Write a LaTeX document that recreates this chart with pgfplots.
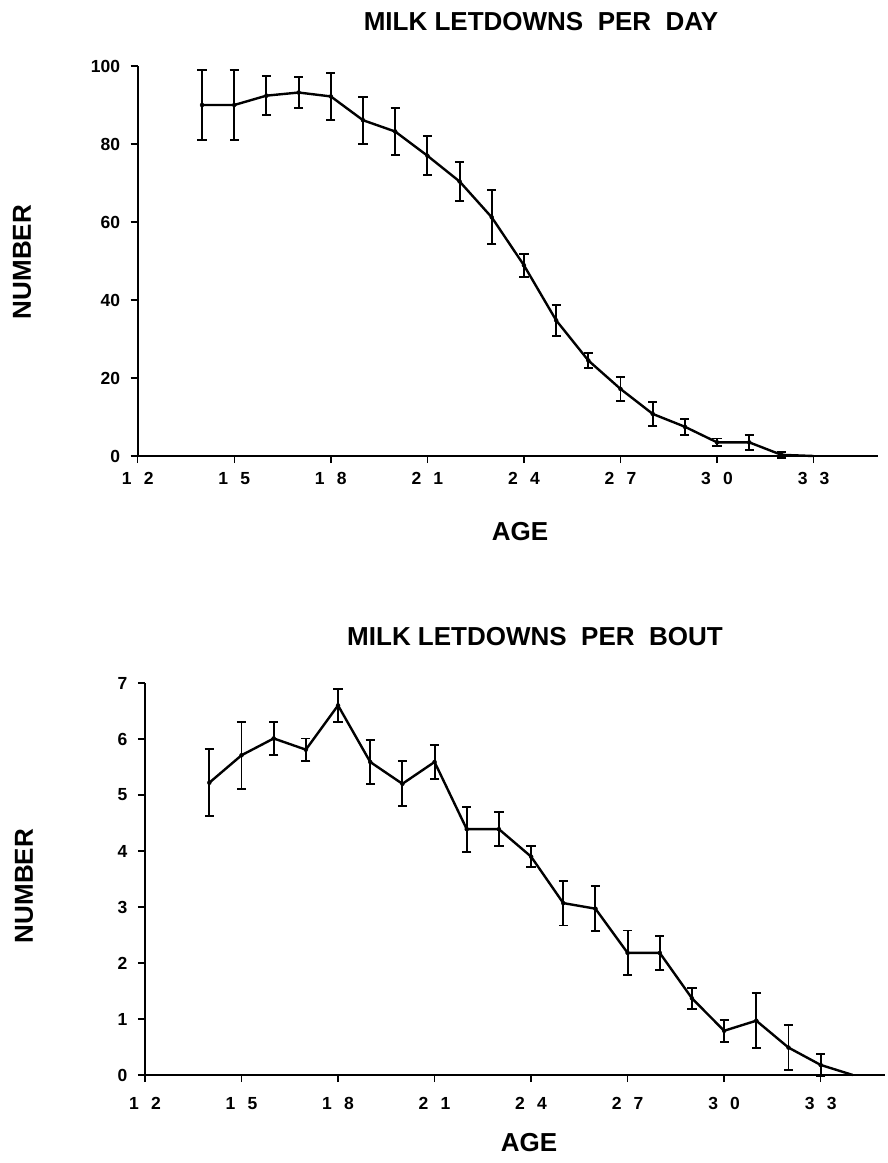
\documentclass[border=0pt]{standalone}
\usepackage{fontspec}
\setmainfont{Liberation Sans}
\usepackage{pgfplots}
\usepackage{pgfplotstable}
\pgfplotsset{compat=1.18}
\pgfplotstableread{
x y e
14 90.0 9.0
15 90.0 9.0
16 92.4 5.0
17 93.2 4.0
18 92.2 6.0
19 86.1 6.0
20 83.2 6.0
21 77.0 5.0
22 70.4 5.0
23 61.2 6.9
24 48.9 3.0
25 34.8 4.0
26 24.5 2.0
27 17.2 3.0
28 10.8 3.0
29 7.5 2.0
30 3.5 1.0
31 3.5 2.0
32 0.3 0.8
}\topdata
\pgfplotstableread{
x y
14 90.0
15 90.0
16 92.4
17 93.2
18 92.2
19 86.1
20 83.2
21 77.0
22 70.4
23 61.2
24 48.9
25 34.8
26 24.5
27 17.2
28 10.8
29 7.5
30 3.5
31 3.5
32 0.3
33 0.0
}\topline
\pgfplotstableread{
x y e
14 5.22 0.60
15 5.71 0.60
16 6.01 0.30
17 5.81 0.20
18 6.60 0.30
19 5.59 0.40
20 5.20 0.40
21 5.59 0.30
22 4.39 0.40
23 4.39 0.30
24 3.90 0.19
25 3.07 0.40
26 2.97 0.40
27 2.18 0.40
28 2.18 0.30
29 1.37 0.19
30 0.79 0.20
31 0.97 0.49
32 0.49 0.40
33 0.18 0.19
}\botdata
\pgfplotstableread{
x y
14 5.22
15 5.71
16 6.01
17 5.81
18 6.60
19 5.59
20 5.20
21 5.59
22 4.39
23 4.39
24 3.90
25 3.07
26 2.97
27 2.18
28 2.18
29 1.37
30 0.79
31 0.97
32 0.49
33 0.18
34 0.00
}\botline
\newcommand{\dg}[2]{#1\hspace{0.7em}#2}
\pgfplotsset{
  mystyle/.style={
    scale only axis,
    axis lines=left,
    axis line style={-, line width=1.6pt, black},
    tick align=outside,
    major tick length=7pt,
    tick style={line width=1.4pt, black},
    xmin=12, xmax=35,
    xtick={12,15,18,21,24,27,30,33},
    xticklabels={\dg12,\dg15,\dg18,\dg21,\dg24,\dg27,\dg30,\dg33},
    ticklabel style={font=\fontsize{17.5}{17.5}\selectfont\bfseries},
    yticklabel style={xshift=-7pt},
    /pgf/number format/assume math mode=true,
    clip=false,
  },
  myline/.style={black, line width=2.4pt, mark=none, sharp plot, line join=round},
  mybars/.style={only marks, mark=none, forget plot,
    error bars/.cd, y dir=both, y explicit,
    error bar style={line width=1.9pt, black},
    error mark options={rotate=90, mark size=4.6pt, line width=1.9pt, black}},
}
\begin{document}
\begin{tikzpicture}[x=1pt,y=1pt]
\useasboundingbox (0,0) rectangle (887,-1163);
\begin{axis}[mystyle, at={(137.7pt,-456pt)}, anchor=south west,
  width=740.3pt, height=390pt, ymin=0, ymax=100, ytick={0,20,...,100},
  xticklabel style={yshift=-6pt}]
\addplot[myline] table[x=x,y=y] {\topline};
\addplot[mybars] table[x=x,y=y,y error=e] {\topdata};
\end{axis}
\begin{axis}[mystyle, at={(145pt,-1075pt)}, anchor=south west,
  width=740pt, height=392pt, ymin=0, ymax=7, ytick={0,1,...,7},
  xticklabel style={yshift=-12pt}]
\addplot[myline] table[x=x,y=y] {\botline};
\addplot[mybars] table[x=x,y=y,y error=e] {\botdata};
\end{axis}
\begin{scope}[every node/.style={font=\fontsize{26}{26}\selectfont\bfseries, inner sep=0pt}]
\node at (541,-22) {MILK LETDOWNS\ \ PER\ \ DAY};
\node at (535,-637) {MILK LETDOWNS\ \ PER\ \ BOUT};
\node at (520,-532) {AGE};
\node at (529,-1143) {AGE};
\node[rotate=90] at (22,-262) {NUMBER};
\node[rotate=90] at (24,-886) {NUMBER};
\end{scope}
\end{tikzpicture}
\end{document}
